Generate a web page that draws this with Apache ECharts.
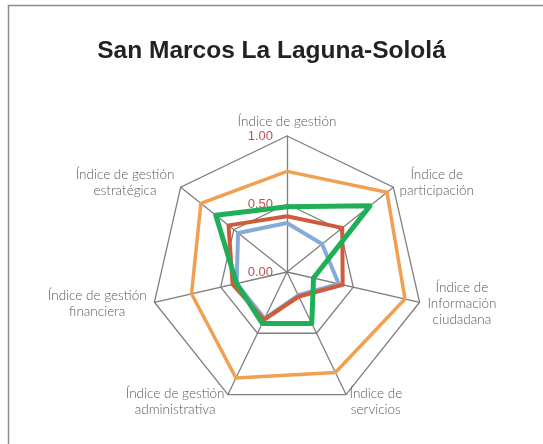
<!DOCTYPE html>
<html>
<head>
<meta charset="utf-8">
<script src="https://cdn.jsdelivr.net/npm/echarts@6/dist/echarts.min.js"></script>
<style>
  html, body { margin: 0; padding: 0; background: #fff; }
  #chart { width: 543px; height: 444px; }
</style>
</head>
<body>
<div id="chart"></div>
<script>
  // ejes en orden clockwise desde arriba (echarts los pone al revés, se invierte abajo)
  const indicadores = [
    'Índice de gestión',
    'Índice de\nparticipación',
    'Índice de\nInformación\nciudadana',
    'Índice de\nservicios',
    'Índice de gestión\nadministrativa',
    'Índice de gestión\nfinanciera',
    'Índice de gestión\nestratégica'
  ]
  const serieAzul = [0.36, 0.33, 0.39, 0.19, 0.38, 0.38, 0.46]
  const serieRoja = [0.41, 0.52, 0.42, 0.20, 0.39, 0.41, 0.55]
  const serieNaranja = [0.74, 0.94, 0.89, 0.82, 0.865, 0.72, 0.81]
  const serieVerde = [0.48, 0.78, 0.20, 0.42, 0.42, 0.38, 0.67]
  const ticks = ['0.00', '0.50', '1.00']

  // echarts va en sentido antihorario: primer eje fijo, el resto invertido
  const reorder = arr => [arr[0]].concat(arr.slice(1).reverse())

  const chart = echarts.init(document.getElementById('chart'), null, {renderer: 'canvas'})

  const indicator = reorder(indicadores).map((name, i) => {
    let ind = {name: name, min: 0, max: 1}
    if (i === 0) {
      ind.nameGap = 5
      ind.axisLabel = {
        show: true,
        color: '#C0504D',
        fontSize: 13,
        fontFamily: 'Liberation Sans',
        margin: 14,
        formatter: v => ticks[Math.round(v * 2)] || ''
      }
    }
    return ind
  })

  const serie = (data, color, width) => ({
    value: reorder(data),
    symbol: 'none',
    lineStyle: {color: color, width: width},
    itemStyle: {color: color}
  })

  const nameFont = {color: '#595959', fontSize: 13.5, fontFamily: 'Lato', fontWeight: 300, lineHeight: 16}

  chart.setOption({
    animation: false,
    title: {
      text: 'San Marcos La Laguna-Sololá',
      left: 'center',
      top: 34,
      textStyle: {fontFamily: 'Liberation Sans', fontWeight: 'bold', fontSize: 24.5, color: '#222'}
    },
    graphic: [{
      type: 'rect',
      shape: {x: 8.5, y: 5.5, width: 560, height: 460},
      style: {fill: 'none', stroke: '#8c8c8c', lineWidth: 1.5},
      silent: true
    }],
    radar: {
      center: [287, 272],
      radius: 136,
      shape: 'polygon',
      splitNumber: 2,
      nameGap: 8,
      indicator: indicator,
      axisName: Object.assign({
        formatter: t => t.split('\n').map(l => '{c|' + l + '}').join('\n'),
        rich: {c: Object.assign({align: 'center'}, nameFont)}
      }, nameFont),
      axisLine: {lineStyle: {color: '#7f7f7f', width: 1.3}},
      splitLine: {lineStyle: {color: '#7f7f7f', width: 1.3}},
      splitArea: {show: false},
      axisTick: {show: false},
      axisLabel: {show: false}
    },
    series: [{
      type: 'radar',
      data: [
        serie(serieAzul, '#86aad9', 4),
        serie(serieRoja, '#d05a3c', 4),
        serie(serieNaranja, '#f0a050', 3.5),
        serie(serieVerde, '#1faf58', 5)
      ]
    }]
  })
</script>
</body>
</html>
